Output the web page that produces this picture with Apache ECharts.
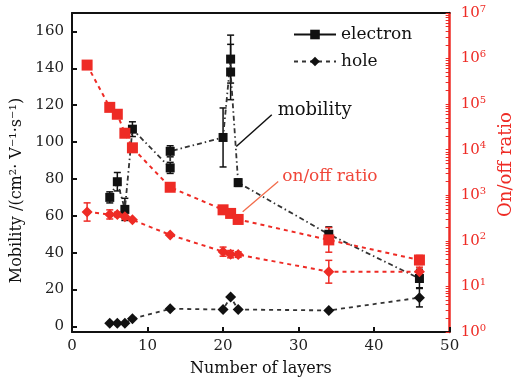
<!DOCTYPE html>
<html>
<head>
<meta charset="utf-8">
<script src="https://cdn.jsdelivr.net/npm/echarts@6/dist/echarts.min.js"></script>
<style>html,body{margin:0;padding:0;background:#fff;} #chart{width:523px;height:388px;}</style>
</head>
<body>
<div id="chart"></div>
<script>
// mobility (left axis)
var electronX = [5, 6, 7, 8, 13, 13, 20, 21, 21, 22, 34, 46];
var electronY = [70, 78.5, 63.5, 107, 86, 95, 102.5, 145, 138, 78, 50, 26];
var electronErr = [3, 5, 6, 4, 3, 3, 16, 13, 15, 2, 4, 5];

var holeX = [5, 6, 7, 8, 13, 20, 21, 22, 34, 46];
var holeY = [1.8, 1.8, 1.8, 4.2, 9.6, 9.2, 16, 9.2, 8.7, 15.6];
var holeErr = [0, 0, 0, 0, 0, 0, 0, 0, 0, 5];

// on/off ratio (right log axis)
var ratioX = [2, 5, 6, 7, 8, 13, 20, 21, 22, 34, 46];
var ratioElectron = [7.2e5, 8.5e4, 6.0e4, 2.3e4, 1.1e4, 1.5e3, 480, 400, 295, 105, 38];
var ratioElectronErr = [0, 0, 0, 0, 0, 0, 0, 0, 0, 0.27, 0.1];   // in decades
var ratioHole = [430, 380, 380, 340, 290, 135, 58, 51, 50, 21, 21];
var ratioHoleErr = [0.2, 0.1, 0.05, 0.05, 0, 0, 0.1, 0.08, 0.06, 0.25, 0.1];

var leftTicks = [0, 20, 40, 60, 80, 100, 120, 140, 160];
var rightLabels = [1, 10, 100, 1e3, 1e4, 1e5, 1e6, 1e7];

var RED = '#ee2b25';
var FONT = 'DejaVu Serif';

function pairs(xs, ys) {
	return xs.map(function (x, i) { return [x, ys[i]]; });
}
function errLinear(xs, ys, es) {
	var out = [];
	xs.forEach(function (x, i) { if (es[i] > 0) out.push([x, ys[i] - es[i], ys[i] + es[i]]); });
	return out;
}
function errLog(xs, ys, es) {
	var out = [];
	xs.forEach(function (x, i) {
		if (es[i] > 0) out.push([x, ys[i] / Math.pow(10, es[i]), ys[i] * Math.pow(10, es[i])]);
	});
	return out;
}
function errRender(color) {
	return function (params, api) {
		var x = api.value(0);
		var lo = api.coord([x, api.value(1)]);
		var hi = api.coord([x, api.value(2)]);
		var w = 3.5;
		var st = {stroke: color, lineWidth: 1.5};
		return {type: 'group', children: [
			{type: 'line', shape: {x1: lo[0], y1: lo[1], x2: hi[0], y2: hi[1]}, style: st},
			{type: 'line', shape: {x1: lo[0] - w, y1: lo[1], x2: lo[0] + w, y2: lo[1]}, style: st},
			{type: 'line', shape: {x1: hi[0] - w, y1: hi[1], x2: hi[0] + w, y2: hi[1]}, style: st}
		]};
	};
}

// log minor ticks 1..9 x 10^n
var rightTicks = [];
for (var n = 0; n < 7; n++) {
	for (var m = 1; m < 10; m++) rightTicks.push(m * Math.pow(10, n));
}
rightTicks.push(1e7);

var myChart = echarts.init(document.getElementById('chart'));

var option = {
	animation: false,
	grid: {left: 72, right: 61, top: 13, bottom: 56},
	legend: {
		orient: 'vertical',
		left: 288,
		top: 21,
		itemWidth: 42,
		itemHeight: 12,
		itemGap: 10,
		textStyle: {fontFamily: FONT, fontSize: 17, color: '#111'},
		data: [
			{name: 'electron', lineStyle: {type: 'solid', color: '#111'}},
			{name: 'hole'}
		]
	},
	xAxis: [{
		type: 'value',
		min: 0, max: 50, interval: 10,
		name: 'Number of layers',
		nameLocation: 'middle',
		nameGap: 29,
		nameTextStyle: {fontFamily: FONT, fontSize: 16, color: '#111'},
		axisLine: {onZero: false, lineStyle: {color: '#111', width: 2}},
		axisTick: {inside: true, length: 5, lineStyle: {color: '#111', width: 2}},
		axisLabel: {fontFamily: FONT, fontSize: 15, color: '#222', margin: 7},
		splitLine: {show: false}
	}, {
		type: 'value',
		position: 'top',
		min: 0, max: 50,
		axisLine: {show: true, onZero: false, lineStyle: {color: '#111', width: 2}},
		axisTick: {show: false},
		axisLabel: {show: false},
		splitLine: {show: false}
	}],
	yAxis: [{
		type: 'value',
		min: -3, max: 170,
		name: 'Mobility /(cm²· V⁻¹·s⁻¹)',
		nameLocation: 'middle',
		nameGap: 44,
		nameTextStyle: {fontFamily: FONT, fontSize: 16, color: '#111', padding: [0, 36, 0, 0]},
		axisLine: {show: true, onZero: false, lineStyle: {color: '#111', width: 2}},
		axisTick: {inside: true, length: 5, customValues: leftTicks, lineStyle: {color: '#111', width: 2}},
		axisLabel: {customValues: leftTicks, fontFamily: FONT, fontSize: 15, color: '#222', margin: 8},
		splitLine: {show: false}
	}, {
		type: 'log',
		logBase: 10,
		min: 1, max: 1e7,
		position: 'right',
		name: 'On/off ratio',
		nameLocation: 'middle',
		nameGap: 44,
		nameTextStyle: {fontFamily: FONT, fontSize: 18, color: RED, padding: [0, 0, 0, 16]},
		axisLine: {show: true, onZero: false, lineStyle: {color: RED, width: 2.5}},
		axisTick: {inside: true, length: 4, customValues: rightTicks, lineStyle: {color: RED, width: 1}},
		axisLabel: {
			customValues: rightLabels,
			margin: 11,
			color: RED,
			formatter: function (v) {
				return '{b|10}{s|' + Math.round(Math.log10(v)) + '}';
			},
			rich: {
				b: {fontFamily: FONT, fontSize: 15, color: RED, lineHeight: 18},
				s: {fontFamily: FONT, fontSize: 10, color: RED, lineHeight: 10, verticalAlign: 'top'}
			}
		},
		splitLine: {show: false}
	}],
	series: [{
		name: 'electron',
		type: 'line',
		data: pairs(electronX, electronY),
		symbol: 'rect',
		symbolSize: 9,
		itemStyle: {color: '#111'},
		lineStyle: {color: '#333', width: 1.8, type: [5, 3, 1.5, 3]},
		z: 3,
		markLine: {
			silent: true,
			symbol: ['none', 'none'],
			label: {show: false},
			lineStyle: {color: '#111', type: 'solid', width: 1.5},
			data: [[{coord: [26.45, 114.8]}, {coord: [21.75, 97.6]}]]
		},
		markPoint: {
			silent: true,
			symbol: 'rect',
			symbolSize: 1,
			itemStyle: {color: 'rgba(0,0,0,0)'},
			label: {show: true, position: 'right', distance: 2, formatter: 'mobility',
				fontFamily: FONT, fontSize: 18, color: '#111'},
			data: [{coord: [26.9, 117.4]}]
		}
	}, {
		name: 'hole',
		type: 'line',
		data: pairs(holeX, holeY),
		symbol: 'diamond',
		symbolSize: 11,
		itemStyle: {color: '#111'},
		lineStyle: {color: '#333', width: 1.8, type: [4, 4]},
		z: 3
	}, {
		name: 'ratio electron',
		type: 'line',
		yAxisIndex: 1,
		data: pairs(ratioX, ratioElectron),
		symbol: 'rect',
		symbolSize: 11,
		itemStyle: {color: RED},
		lineStyle: {color: RED, width: 2, type: [4, 4]},
		z: 4,
		markLine: {
			silent: true,
			symbol: ['none', 'none'],
			label: {show: false},
			lineStyle: {color: '#f26b4a', type: 'solid', width: 1.3},
			data: [[{coord: [27.3, 1995]}, {coord: [22.6, 436]}]]
		},
		markPoint: {
			silent: true,
			symbol: 'rect',
			symbolSize: 1,
			itemStyle: {color: 'rgba(0,0,0,0)'},
			label: {show: true, position: 'right', distance: 2, formatter: 'on/off ratio',
				fontFamily: FONT, fontSize: 17, color: '#f0473a'},
			data: [{coord: [27.5, 2570]}]
		}
	}, {
		name: 'ratio hole',
		type: 'line',
		yAxisIndex: 1,
		data: pairs(ratioX, ratioHole),
		symbol: 'diamond',
		symbolSize: 11,
		itemStyle: {color: RED},
		lineStyle: {color: RED, width: 2, type: [4, 4]},
		z: 4
	}, {
		type: 'custom',
		renderItem: errRender('#111'),
		encode: {x: 0, y: [1, 2]},
		data: errLinear(electronX, electronY, electronErr),
		z: 2
	}, {
		type: 'custom',
		renderItem: errRender('#111'),
		encode: {x: 0, y: [1, 2]},
		data: errLinear(holeX, holeY, holeErr),
		z: 2
	}, {
		type: 'custom',
		yAxisIndex: 1,
		renderItem: errRender(RED),
		encode: {x: 0, y: [1, 2]},
		data: errLog(ratioX, ratioElectron, ratioElectronErr),
		z: 2
	}, {
		type: 'custom',
		yAxisIndex: 1,
		renderItem: errRender(RED),
		encode: {x: 0, y: [1, 2]},
		data: errLog(ratioX, ratioHole, ratioHoleErr),
		z: 2
	}]
};

myChart.setOption(option);
</script>
</body>
</html>
